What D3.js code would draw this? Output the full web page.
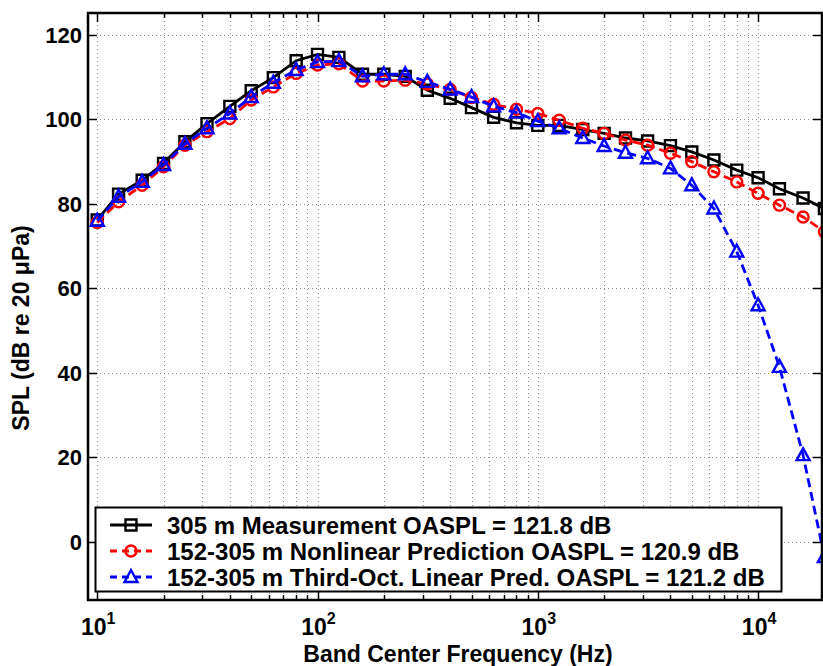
<!DOCTYPE html>
<html>
<head>
<meta charset="utf-8">
<script src="https://cdn.jsdelivr.net/npm/d3@7"></script>
<style>
  body { margin: 0; background: #fff; }
  svg { display: block; font-family: "Liberation Sans", Arial, Helvetica, sans-serif; }
</style>
</head>
<body>
<div id="chart"></div>
<script>
// Third-octave band centre frequencies (Hz)
const freqs = [10, 12.5, 16, 20, 25, 31.5, 40, 50, 63, 80, 100, 125, 160, 200, 250, 315, 400, 500, 630, 800,
  1000, 1250, 1600, 2000, 2500, 3150, 4000, 5000, 6300, 8000, 10000, 12500, 16000, 20000];

// 305 m measurement
const measured = [76.2, 82.3, 85.6, 89.6, 94.7, 99.0, 103.1, 106.8, 109.9, 113.9, 115.4, 114.7, 110.7, 110.7, 110.2,
  106.9, 105.0, 102.8, 100.5, 99.2, 98.6, 98.6, 97.6, 96.7, 95.6, 94.9, 93.8, 92.3, 90.4, 88.0, 86.2, 83.6, 81.4, 78.9];

// 152-305 m nonlinear prediction
const nonlinear = [75.6, 80.5, 84.4, 88.8, 93.9, 97.1, 100.2, 104.6, 107.7, 110.9, 112.9, 113.2, 109.1, 109.1, 109.3,
  108.4, 107.1, 105.2, 103.6, 102.4, 101.4, 99.8, 97.9, 96.7, 95.1, 93.9, 92.0, 90.0, 87.6, 85.2, 82.5, 79.7, 76.9, 73.4];

// 152-305 m third-octave linear prediction
const linearPred = [76.0, 81.7, 85.2, 89.2, 94.2, 97.9, 101.4, 105.3, 108.7, 111.7, 113.6, 113.8, 110.2, 110.7, 110.7,
  108.9, 107.1, 105.3, 103.1, 101.6, 99.6, 97.9, 95.6, 93.7, 92.1, 90.8, 88.4, 84.4, 78.9, 68.7, 56.0, 41.4, 20.5, -3.6];

const yTicks = [0, 20, 40, 60, 80, 100, 120];
const xDecades = [10, 100, 1000, 10000];
const xExponents = ["1", "2", "3", "4"];
const legendLabels = [
  "305 m Measurement OASPL = 121.8 dB",
  "152-305 m Nonlinear Prediction OASPL = 120.9 dB",
  "152-305 m Third-Oct. Linear Pred. OASPL = 121.2 dB"
];

const width = 823, height = 666;
const plot = { left: 88, right: 822, top: 13, bottom: 600 };

const svg = d3.select("#chart").append("svg")
  .attr("width", width)
  .attr("height", height);

const x = d3.scaleLog().domain([9.08, 19500]).range([plot.left, plot.right]);
const y = d3.scaleLinear().domain([-13.8, 125.2]).range([plot.bottom, plot.top]);

// minor log ticks inside the visible range
const minorTicks = [];
[1, 10, 100, 1000, 10000].forEach(dec => {
  for (let k = 1; k <= 9; k++) {
    const v = dec * k;
    if (v >= x.domain()[0] && v <= x.domain()[1]) minorTicks.push(v);
  }
});

// Gridlines - dotted, matlab style
const grid = svg.append("g").attr("stroke", "#8a8a8a").attr("stroke-width", 1).attr("stroke-dasharray", "1,3");
grid.selectAll(".gx").data(minorTicks).join("line")
  .attr("x1", d => Math.round(x(d)) + 0.5).attr("x2", d => Math.round(x(d)) + 0.5)
  .attr("y1", plot.top).attr("y2", plot.bottom);
grid.selectAll(".gy").data(yTicks).join("line")
  .attr("x1", plot.left).attr("x2", plot.right)
  .attr("y1", d => Math.round(y(d)) + 0.5).attr("y2", d => Math.round(y(d)) + 0.5);

// inward ticks
const ticks = svg.append("g").attr("stroke", "#000").attr("stroke-width", 1.5);
minorTicks.forEach(v => {
  const len = xDecades.includes(v) ? 9 : 5;
  const px = Math.round(x(v)) + 0.5;
  ticks.append("line").attr("x1", px).attr("x2", px).attr("y1", plot.bottom).attr("y2", plot.bottom - len);
  ticks.append("line").attr("x1", px).attr("x2", px).attr("y1", plot.top).attr("y2", plot.top + len);
});
yTicks.forEach(v => {
  const py = Math.round(y(v)) + 0.5;
  ticks.append("line").attr("x1", plot.left).attr("x2", plot.left + 9).attr("y1", py).attr("y2", py);
  ticks.append("line").attr("x1", plot.right).attr("x2", plot.right - 9).attr("y1", py).attr("y2", py);
});

// series
const series = [
  { values: measured, color: "#000", dash: null, marker: "square" },
  { values: nonlinear, color: "#ff0000", dash: "9,5", marker: "circle" },
  { values: linearPred, color: "#0000ff", dash: "9,5", marker: "triangle" }
];

const symbolPath = (type, cx, cy) => {
  if (type === "square") return `M${cx - 5.5},${cy - 5.5}h11v11h-11z`;
  if (type === "circle") return `M${cx - 5.5},${cy}a5.5,5.5 0 1,0 11,0a5.5,5.5 0 1,0 -11,0`;
  return `M${cx},${cy - 7}L${cx + 6.5},${cy + 5}L${cx - 6.5},${cy + 5}z`;
};

const line = d3.line().x(d => x(d[0])).y(d => y(d[1]));

series.forEach(s => {
  const pts = freqs.map((f, i) => [f, s.values[i]]);
  svg.append("path").datum(pts)
    .attr("fill", "none").attr("stroke", s.color).attr("stroke-width", 2.8)
    .attr("stroke-dasharray", s.dash)
    .attr("d", line);
  svg.append("g").selectAll("path").data(pts).join("path")
    .attr("d", d => symbolPath(s.marker, x(d[0]), y(d[1])))
    .attr("fill", "none").attr("stroke", s.color).attr("stroke-width", 2.4);
});

// axes frame
svg.append("rect")
  .attr("x", plot.left).attr("y", plot.top)
  .attr("width", plot.right - plot.left).attr("height", plot.bottom - plot.top)
  .attr("fill", "none").attr("stroke", "#000").attr("stroke-width", 2.5);

// y tick labels
svg.append("g").selectAll("text").data(yTicks).join("text")
  .attr("x", 82).attr("y", d => y(d))
  .attr("dy", "0.36em")
  .attr("text-anchor", "end")
  .attr("font-size", 22).attr("font-weight", "bold")
  .text(d => d);

// x tick labels 10^n
const xl = svg.append("g").attr("font-weight", "bold");
xDecades.forEach((v, i) => {
  const t = xl.append("text").attr("x", x(v) + 1).attr("y", 635).attr("text-anchor", "middle").attr("font-size", 23);
  t.append("tspan").text("10");
  t.append("tspan").attr("font-size", 16).attr("dy", -11).text(xExponents[i]);
});

// axis labels
svg.append("text")
  .attr("x", 458).attr("y", 662)
  .attr("text-anchor", "middle")
  .attr("font-size", 23).attr("font-weight", "bold")
  .text("Band Center Frequency (Hz)");

svg.append("text")
  .attr("transform", `translate(29,328) rotate(-90)`)
  .attr("text-anchor", "middle")
  .attr("font-size", 23).attr("font-weight", "bold")
  .text("SPL (dB re 20 \u03BCPa)");

// legend
const legend = svg.append("g");
legend.append("rect")
  .attr("x", 95.5).attr("y", 507.5).attr("width", 686).attr("height", 84)
  .attr("fill", "#fff").attr("stroke", "#000").attr("stroke-width", 2);
const rowY = [525, 551, 577];
series.forEach((s, i) => {
  legend.append("line")
    .attr("x1", 110).attr("x2", 152).attr("y1", rowY[i]).attr("y2", rowY[i])
    .attr("stroke", s.color).attr("stroke-width", 2.8).attr("stroke-dasharray", s.dash ? "7,5" : null);
  legend.append("path")
    .attr("d", symbolPath(s.marker, 131, rowY[i]))
    .attr("fill", "none").attr("stroke", s.color).attr("stroke-width", 2.4);
  legend.append("text")
    .attr("x", 167).attr("y", rowY[i]).attr("dy", "0.36em")
    .attr("font-size", 24).attr("font-weight", "bold")
    .text(legendLabels[i]);
});
</script>
</body>
</html>
